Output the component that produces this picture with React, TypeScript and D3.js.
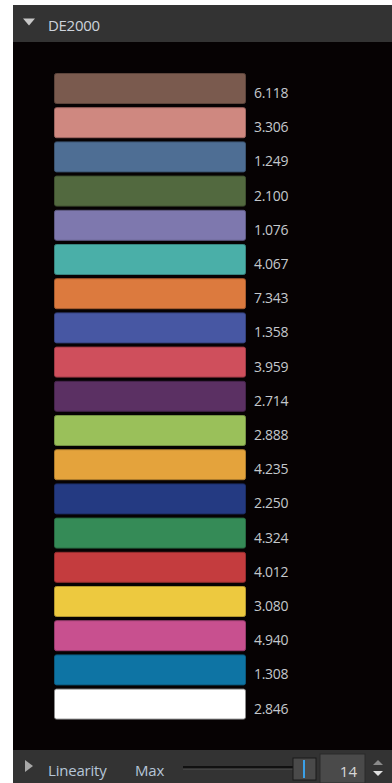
import React from "react";
import * as d3 from "d3";

const swatchColors = [
  "#7a5a4e", "#cf8880", "#4e6e94", "#52693f", "#7e78ae", "#4aafa8",
  "#dc7a3e", "#4757a3", "#cf4f5c", "#5b3063", "#9ac05a", "#e4a33c",
  "#243a82", "#358b57", "#c43c3e", "#edc93f", "#c8508f", "#0e74a4", "#ffffff",
];
const deltaValues = [
  6.118, 3.306, 1.249, 2.1, 1.076, 4.067, 7.343, 1.358, 3.959, 2.714,
  2.888, 4.235, 2.25, 4.324, 4.012, 3.08, 4.94, 1.308, 2.846,
];
const panelTitle = "DE2000";
const footerLabels = ["Linearity", "Max"];
const sliderValue = 14;
const sliderMax = 14;

const W = 392;
const H = 783;
const FONT = "'Segoe UI', 'Open Sans', 'Noto Sans', sans-serif";

export default function App() {
  const idx = deltaValues.map((_, i) => i);
  const y = d3
    .scaleBand<number>()
    .domain(idx)
    .range([73, 719.6])
    .paddingInner(3.2 / 34.2)
    .paddingOuter(0);
  const x = d3.scaleLinear().domain([0, 1]).range([54, 246]);
  const slider = d3.scaleLinear().domain([0, sliderMax]).range([183, 304]);

  return (
    <svg
      width={W}
      height={H}
      style={{ position: "absolute", left: 0, top: 0, display: "block" }}
      fontFamily={FONT}
    >
      <rect x={0} y={0} width={W} height={H} fill="#ffffff" />
      {/* header */}
      <rect x={13} y={5} width={W - 13} height={37} fill="#333333" />
      <path d="M23,18.5 L35,18.5 L29,25.5 Z" fill="#c8c8c8" />
      <text x={48} y={31} fontSize={15} fill="#cdd3dc" letterSpacing={-0.3}>
        {panelTitle}
      </text>
      {/* panel */}
      <rect x={13} y={42} width={W - 13} height={708} fill="#060203" />
      {idx.map((i) => {
        const c = swatchColors[i];
        const stroke = d3.color(c)!.darker(0.8).formatHex();
        const yy = y(i)!;
        return (
          <g key={i}>
            <rect
              x={x(0) + 0.5}
              y={yy + 0.5}
              width={x(1) - x(0) - 1}
              height={y.bandwidth() - 1}
              rx={2}
              fill={c}
              stroke={i === swatchColors.length - 1 ? "#8a8a8a" : stroke}
              strokeWidth={1}
            />
            <text
              x={254}
              y={yy + y.bandwidth() / 2 + 9.5}
              fontSize={14}
              fill="#c4c8cc"
              letterSpacing={-0.3}
            >
              {d3.format(".3f")(deltaValues[i])}
            </text>
          </g>
        );
      })}
      {/* footer */}
      <rect x={13} y={750} width={W - 13} height={33} fill="#333333" />
      <path d="M25,760 L25,772 L33,766 Z" fill="#a8a8a8" />
      <text x={48} y={776} fontSize={15} fill="#b6c6d8" letterSpacing={-0.2}>
        {footerLabels[0]}
      </text>
      <text x={135} y={776} fontSize={15} fill="#b6c6d8" letterSpacing={-0.2}>
        {footerLabels[1]}
      </text>
      <line x1={183} x2={slider(sliderValue) - 10} y1={767.5} y2={767.5} stroke="#111" strokeWidth={3} />
      <line x1={183} x2={slider(sliderValue) - 10} y1={769} y2={769} stroke="#555" strokeWidth={1} />
      <rect x={slider(sliderValue) - 11} y={758} width={23} height={22} fill="#4a4a4a" stroke="#1a1a1a" />
      <line x1={slider(sliderValue)} x2={slider(sliderValue)} y1={760} y2={778} stroke="#3aa0e8" strokeWidth={2} />
      <rect x={320} y={754} width={45} height={29} fill="#4a4a4a" stroke="#2a2a2a" />
      <text x={357} y={777} fontSize={15} fill="#d8d8d8" textAnchor="end">
        {sliderValue}
      </text>
      <path d="M373,765 L383,765 L378,760 Z" fill="#8a8a8a" />
      <path d="M373,771 L383,771 L378,776 Z" fill="#e0e0e0" />
    </svg>
  );
}
